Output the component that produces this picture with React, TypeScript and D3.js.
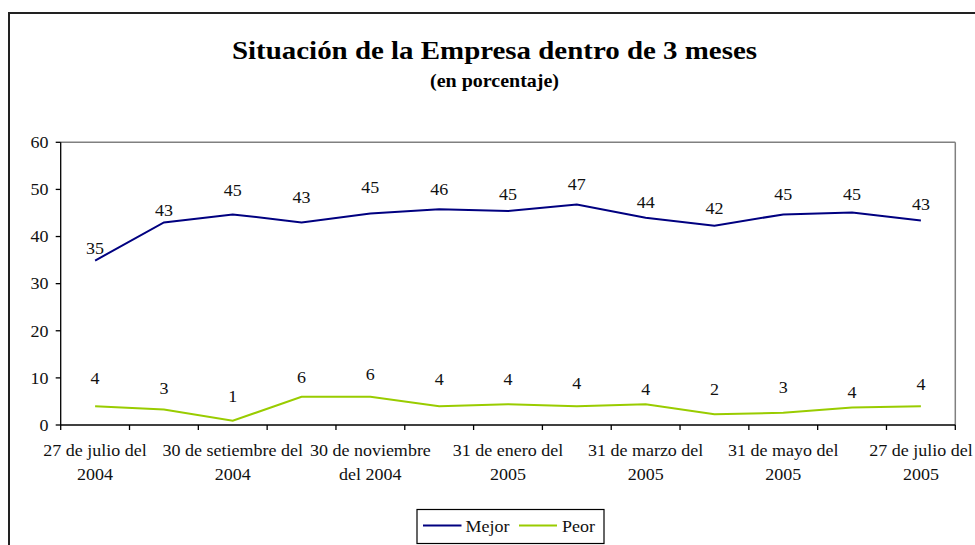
import React from "react";
import * as d3 from "d3";

const categories = [
  ["27 de julio del", "2004"],
  ["", ""],
  ["30 de setiembre del", "2004"],
  ["", ""],
  ["30 de noviembre", "del 2004"],
  ["", ""],
  ["31 de enero del", "2005"],
  ["", ""],
  ["31 de marzo del", "2005"],
  ["", ""],
  ["31 de mayo del", "2005"],
  ["", ""],
  ["27 de julio del", "2005"],
];

const mejor = [34.9, 43.0, 44.7, 43.0, 44.9, 45.8, 45.4, 46.8, 44.0, 42.3, 44.7, 45.1, 43.4];
const peor = [4.0, 3.3, 0.9, 6.0, 6.0, 4.0, 4.4, 4.0, 4.4, 2.3, 2.6, 3.7, 4.0];

const mejorLabels = ["35", "43", "45", "43", "45", "46", "45", "47", "44", "42", "45", "45", "43"];
const peorLabels = ["4", "3", "1", "6", "6", "4", "4", "4", "4", "2", "3", "4", "4"];

// vertical lift (px) of each data label above its point
const mejorLift = [12.7, 12.3, 24.3, 25.6, 26.6, 20.3, 16.7, 20.3, 15.4, 17.4, 20.3, 18.3, 16.7];
const peorLift = [28, 21.6, 25, 20, 22.4, 26.7, 25.3, 22.7, 15, 25, 25.4, 15.7, 22];

const yTicks = [0, 10, 20, 30, 40, 50, 60];

const seriesNames = ["Mejor", "Peor"];
const seriesColors = ["#000080", "#99CC00"];

const FONT = "Liberation Serif, Times New Roman, Times, serif";
const SX = 1.06;
const FS = 17;

function Txt(props: {
  x: number;
  y: number;
  anchor?: "start" | "middle" | "end";
  children: React.ReactNode;
}) {
  return (
    <text
      transform={`translate(${props.x},${props.y}) scale(${SX},1)`}
      textAnchor={props.anchor || "middle"}
      fontSize={FS}
      fill="#111"
      style={{ fontFamily: FONT }}
    >
      {props.children}
    </text>
  );
}

export default function App() {
  const W = 975;
  const H = 545;
  const left = 60.7;
  const right = 955.3;
  const top = 142.3;
  const bottom = 425;

  const idx = categories.map((_, i) => String(i));
  const x = d3.scaleBand().domain(idx).range([left, right]).paddingInner(0).paddingOuter(0);
  const y = d3.scaleLinear().domain([0, 60]).range([bottom, top]);
  const cx = (i: number) => (x(String(i)) as number) + x.bandwidth() / 2;

  const line = d3
    .line<number>()
    .x((_, i) => cx(i))
    .y((v) => y(v));

  const tickXs = idx.map((k) => x(k) as number).concat([right]);
  const half = 5.8; // half digit height at FS

  return (
    <svg
      width={W}
      height={H}
      style={{ position: "absolute", left: 0, top: 0, background: "#fff", fontFamily: FONT }}
    >
      {/* outer frame */}
      <rect x={9} y={13} width={1000} height={600} fill="#fff" stroke="#222" strokeWidth={2} />

      {/* title */}
      <text
        x={494.5}
        y={58.5}
        textAnchor="middle"
        fontSize={26}
        fontWeight="bold"
        textLength={525}
        lengthAdjust="spacingAndGlyphs"
        fill="#000"
        style={{ fontFamily: FONT }}
      >
        Situación de la Empresa dentro de 3 meses
      </text>
      <text
        x={494.5}
        y={86.5}
        textAnchor="middle"
        fontSize={19}
        fontWeight="bold"
        textLength={129}
        lengthAdjust="spacingAndGlyphs"
        fill="#000"
        style={{ fontFamily: FONT }}
      >
        (en porcentaje)
      </text>

      {/* plot area border (top/right) */}
      <line x1={left} y1={top} x2={right} y2={top} stroke="#808080" strokeWidth={1.5} />
      <line x1={right} y1={top} x2={right} y2={bottom} stroke="#808080" strokeWidth={1.5} />

      {/* y axis */}
      <line x1={left} y1={top} x2={left} y2={bottom} stroke="#000" strokeWidth={1.3} />
      {yTicks.map((t) => (
        <g key={t}>
          <line x1={left - 5} x2={left} y1={y(t)} y2={y(t)} stroke="#000" strokeWidth={1.3} />
          <Txt x={48.5} y={y(t) + half} anchor="end">
            {t}
          </Txt>
        </g>
      ))}

      {/* x axis */}
      <line x1={left} y1={bottom} x2={right} y2={bottom} stroke="#000" strokeWidth={1.3} />
      {tickXs.map((tx, i) => (
        <line key={i} x1={tx} x2={tx} y1={bottom} y2={bottom + 5} stroke="#000" strokeWidth={1.3} />
      ))}
      {categories.map((c, i) =>
        c[0] ? (
          <g key={i}>
            <Txt x={cx(i)} y={455.5}>
              {c[0]}
            </Txt>
            <Txt x={cx(i)} y={479.5}>
              {c[1]}
            </Txt>
          </g>
        ) : null
      )}

      {/* series */}
      <path d={line(mejor) as string} fill="none" stroke={seriesColors[0]} strokeWidth={2} />
      <path d={line(peor) as string} fill="none" stroke={seriesColors[1]} strokeWidth={2} />

      {/* data labels */}
      {mejor.map((v, i) => (
        <Txt key={"m" + i} x={cx(i)} y={y(v) - mejorLift[i] + half}>
          {mejorLabels[i]}
        </Txt>
      ))}
      {peor.map((v, i) => (
        <Txt key={"p" + i} x={cx(i)} y={y(v) - peorLift[i] + half}>
          {peorLabels[i]}
        </Txt>
      ))}

      {/* legend */}
      <rect x={417} y={509.5} width={187} height={34} fill="#fff" stroke="#000" strokeWidth={1.2} />
      <line x1={423} x2={461.5} y1={525.5} y2={525.5} stroke={seriesColors[0]} strokeWidth={2} />
      <Txt x={465.5} y={531.5} anchor="start">
        {seriesNames[0]}
      </Txt>
      <line x1={519} x2={557} y1={525.5} y2={525.5} stroke={seriesColors[1]} strokeWidth={2} />
      <Txt x={562} y={531.5} anchor="start">
        {seriesNames[1]}
      </Txt>
    </svg>
  );
}
